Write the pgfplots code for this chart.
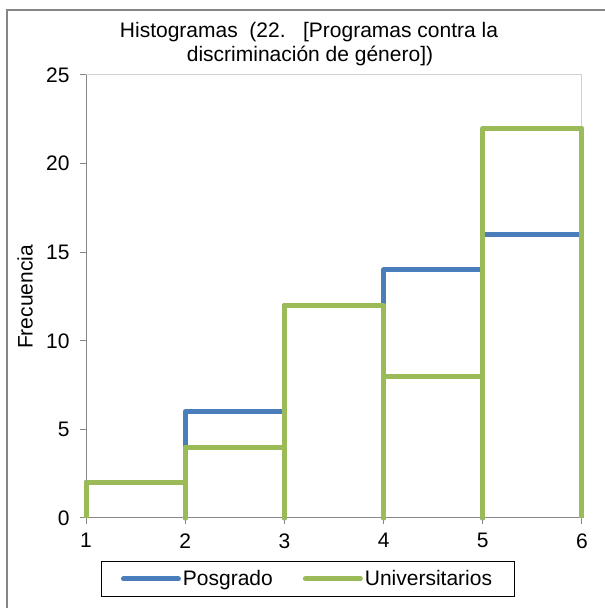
\documentclass[border=0pt]{standalone}
\usepackage{pgfplots}
\pgfplotsset{compat=1.18}
\usepackage{fontspec}
\setmainfont{Liberation Sans}
\definecolor{exblue}{HTML}{4A7EBB}
\definecolor{exgreen}{HTML}{9BBB59}
\definecolor{axgray}{HTML}{868686}
\definecolor{bordergray}{HTML}{D0D0D0}
\newcommand{\cf}{\fontsize{21}{25}\selectfont}
\begin{document}
\begin{tikzpicture}[x=1pt,y=1pt]
\useasboundingbox (0,0) rectangle (605,608);
% outer chart frame (only left and top visible)
\draw[axgray, line width=1.2pt] (7,0) -- (7,598) -- (605,598);
\begin{axis}[
  at={(86pt,90pt)}, anchor=origin,
  scale only axis, width=496pt, height=443pt,
  xmin=1, xmax=6, ymin=0, ymax=25,
  xtick={1,2,3,4,5,6}, ytick={0,5,10,15,20,25},
  axis lines*=left,
  axis line style={axgray, line width=1pt, -},
  tick style={axgray, line width=1pt},
  tick align=outside, major tick length=6pt,
  tick label style={font=\cf},
  /pgf/number format/assume math mode=true,
  yticklabel style={xshift=-7pt},
  xticklabel style={yshift=-6pt},
  clip=false,
  legend columns=2,
  legend cell align=left,
  legend image code/.code={\draw[#1, line width=5pt, line cap=round] (0pt,0pt) -- (55pt,0pt);},
  legend style={at={(0.4466,-0.1377)}, anchor=center, draw=black, line width=0.8pt,
    font=\cf, inner xsep=20pt, inner ysep=7pt,
    /tikz/every even column/.append style={column sep=28pt}},
]
\draw[bordergray, line width=1pt] (rel axis cs:0,1) -- (rel axis cs:1,1) -- (rel axis cs:1,0);
\addplot[exblue, line width=5pt, line join=round] coordinates {
 (1,0)(1,2)(2,2)(2,0)(2,6)(3,6)(3,0)(3,12)(4,12)(4,0)(4,14)(5,14)(5,0)(5,16)(6,16)(6,0)};
\addlegendentry{Posgrado}
\addplot[exgreen, line width=5pt, line join=round] coordinates {
 (1,0)(1,2)(2,2)(2,0)(2,4)(3,4)(3,0)(3,12)(4,12)(4,0)(4,8)(5,8)(5,0)(5,22)(6,22)(6,0)};
\addlegendentry{Universitarios}
\end{axis}
\node[font=\cf, anchor=base] at (309,570) {Histogramas\ \ (22.\ \ \ [Programas contra la};
\node[font=\cf, anchor=base] at (310,546) {discriminación de género])};
\node[font=\cf, rotate=90] at (25,311) {Frecuencia};
\end{tikzpicture}
\end{document}
